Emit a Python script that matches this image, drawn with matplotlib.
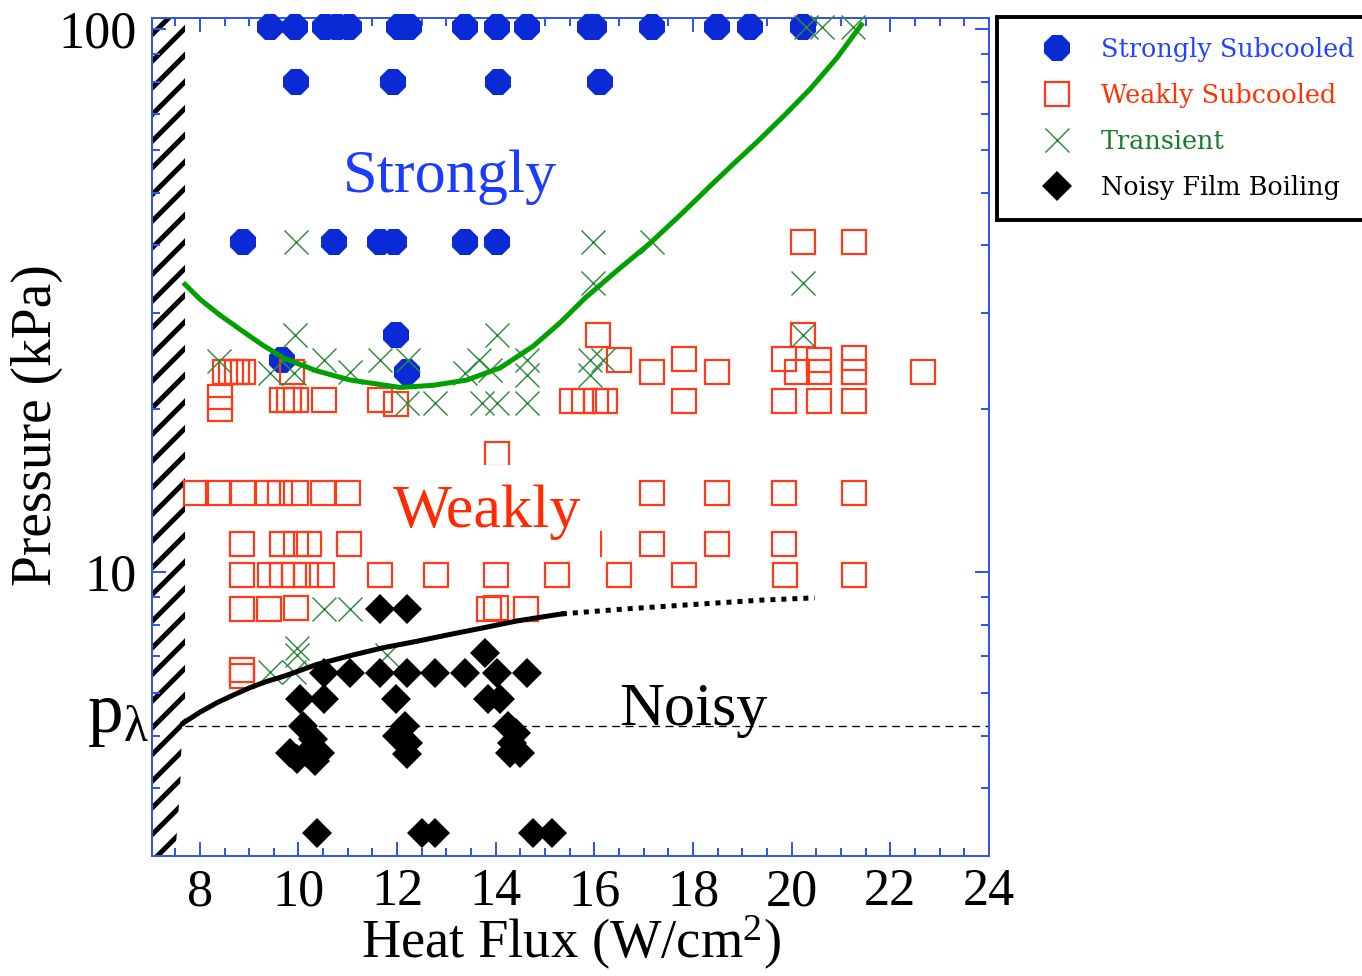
import numpy as np
import matplotlib.pyplot as plt
from matplotlib.ticker import FixedLocator, MultipleLocator, LogLocator, NullFormatter

plt.rcParams['font.family'] = ['Liberation Serif', 'DejaVu Serif']
plt.rcParams['mathtext.fontset'] = 'custom'
plt.rcParams['mathtext.rm'] = 'Liberation Serif'
plt.rcParams['mathtext.default'] = 'regular'
plt.rcParams['hatch.linewidth'] = 4.5
plt.rcParams['hatch.color'] = 'black'

# --- data ---
strong_x = [9.43, 9.93, 10.54, 10.78, 11.03, 12.04, 12.24, 13.38, 14.02, 14.63, 15.91, 16.0,
            17.16, 18.48, 19.15, 20.22,
            9.95, 11.92, 14.05, 16.11,
            8.87, 10.71, 11.66, 11.93, 13.38, 14.02,
            11.98, 12.21, 9.66]
strong_y = [101] * 16 + [80] * 4 + [40.6] * 6 + [27.4, 23.4, 24.6]

weak_x = [8.52, 8.64, 8.76, 8.88, 9.87, 8.40, 8.40,
          9.67, 9.81, 9.95, 10.51, 11.66, 11.98,
          15.54, 15.78, 16.03, 16.21,
          16.08, 16.50, 17.16, 17.81, 18.48, 17.81, 20.23, 19.84, 20.10, 20.56, 20.56,
          21.26, 21.26, 22.67, 19.84, 20.56, 21.26,
          20.23, 21.26,
          7.93, 8.37, 8.88, 9.39, 9.63, 9.95, 10.50, 11.00, 17.16, 18.48, 19.84, 21.26,
          14.02,
          8.86, 9.67, 9.95, 10.21, 11.03, 12.20, 13.37, 14.00, 14.61, 15.89, 17.16, 18.48, 19.84,
          8.86, 9.43, 9.67, 9.91, 10.16, 10.48, 11.66, 12.79, 14.00, 15.24, 16.50, 17.82, 19.86, 21.26,
          8.86, 9.41, 9.95, 13.86, 14.00, 14.61,
          8.86, 8.86]
weak_y = [23.4, 23.4, 23.4, 23.4, 23.4, 21.0, 20.0,
          20.8, 20.8, 20.8, 20.8, 20.8, 20.45,
          20.7, 20.7, 20.7, 20.7,
          27.4, 24.6, 23.4, 24.7, 23.4, 20.7, 27.4, 24.7, 23.4, 24.6, 23.4,
          24.8, 23.4, 23.4, 20.7, 20.7, 20.7,
          40.6, 40.6] + [14.0] * 12 + [16.5] + [11.25] * 13 + [9.9] * 14 + \
         [8.54, 8.54, 8.6, 8.54, 8.6, 8.54, 6.6, 6.45]

trans_x = [20.29, 20.61, 21.24,
           9.95, 15.98, 17.16,
           15.98, 20.23,
           9.93, 14.02, 20.23,
           8.38, 9.43, 9.90, 10.51, 11.05, 11.66, 12.23, 12.20, 12.77, 13.65, 13.38, 13.88,
           14.63, 14.63, 13.72, 14.02, 14.63, 15.91, 16.18, 15.91,
           10.51, 11.05, 9.97, 9.97, 9.43, 9.90, 11.79]
trans_y = [101, 101, 101,
           40.6, 40.6, 40.6,
           34.1, 34.1,
           27.4, 27.4, 27.4,
           24.5, 23.3, 23.3, 24.6, 23.4, 24.6, 24.6, 20.5, 20.5, 24.6, 23.3, 23.6,
           24.6, 23.1, 20.5, 20.5, 20.5, 24.6, 24.6, 23.1,
           8.54, 8.54, 7.25, 7.05, 6.54, 6.54, 7.05]

noisy_x = [11.66, 12.21, 13.78,
           10.51, 11.05, 11.66, 12.21, 12.77, 13.38, 14.02, 14.63,
           10.03, 10.51, 11.98, 13.85, 14.09,
           10.10, 10.30, 9.83, 10.17, 10.44, 10.34, 9.97,
           12.16, 11.99, 12.23, 12.20,
           14.25, 14.42, 14.32, 14.29, 14.49,
           10.37, 12.50, 12.77, 14.76, 15.13]
noisy_y = [8.54, 8.54, 7.11] + [6.53] * 8 + [5.83] * 5 + \
          [5.20, 4.92, 4.65, 4.65, 4.65, 4.49, 4.52,
           5.20, 4.99, 4.85, 4.62,
           5.20, 5.06, 4.85, 4.65, 4.65] + [3.31] * 5

# transition boundary (green) and noisy boundary (black)
green_x = [7.70, 8.01, 8.40, 8.82, 9.25, 9.70, 10.37, 11.05, 12.06, 12.73, 13.41, 14.09, 14.76,
           15.30, 15.81, 16.45, 17.13, 17.75, 18.34, 18.85, 19.35, 19.86, 20.37, 20.91, 21.41]
green_y = [33.9, 31.8, 29.8, 28.0, 26.3, 24.8, 23.5, 22.6, 21.9, 22.1, 22.6, 23.8, 26.1,
           28.8, 32.0, 35.9, 40.4, 45.6, 51.4, 56.9, 62.7, 69.6, 77.6, 88.5, 102]
noisy_line_x = [7.67, 8.00, 8.35, 8.70, 9.02, 9.35, 9.70, 10.37, 11.05, 11.72, 12.40, 13.07,
                13.75, 14.42, 15.34]
noisy_line_y = [5.28, 5.52, 5.75, 5.95, 6.13, 6.29, 6.43, 6.76, 7.02, 7.26, 7.46, 7.68,
                7.90, 8.13, 8.38]
dotted_x = [15.34, 16.65, 18.0, 19.35, 20.47]
dotted_y = [8.38, 8.56, 8.72, 8.88, 8.97]

p_lambda = 5.2
hatch_y = [105, 5.2, 5.2, 4.0, 3.0]
hatch_x = [7.70, 7.70, 7.64, 7.60, 7.50]

blue = '#0a2ad6'
red = '#ff3a1a'
green = '#2e8b3e'
spine_blue = '#3355ee'

fig = plt.figure(figsize=(1362 / 80, 976 / 80), dpi=80)
ax = fig.add_axes([152 / 1362, 1 - 856 / 976, 837 / 1362, 838 / 976])
ax.set_yscale('log')
ax.set_xlim(7.03, 24)
ax.set_ylim(3.0, 105)

ax.fill_betweenx(hatch_y, 7.03, hatch_x, facecolor='white', edgecolor='black',
                 hatch='/', linewidth=0, zorder=1)

ax.plot(strong_x, strong_y, linestyle='none', marker='8', markersize=24.5, color=blue,
        markeredgewidth=0, label='Strongly Subcooled', clip_on=False, zorder=3)
ax.plot(weak_x, weak_y, linestyle='none', marker='s', markersize=21.5, markerfacecolor='none',
        markeredgecolor=red, markeredgewidth=2.0, label='Weakly Subcooled', zorder=4)
ax.plot(trans_x, trans_y, linestyle='none', marker='x', markersize=22, color=green,
        markeredgewidth=1.3, label='Transient', clip_on=False, zorder=5)
ax.plot(noisy_x, noisy_y, linestyle='none', marker='D', markersize=19, color='black',
        markeredgewidth=0, label='Noisy Film Boiling', zorder=5)

ax.plot(green_x, green_y, color='#00a000', linewidth=4.5, zorder=6, solid_joinstyle='round')
ax.plot(noisy_line_x, noisy_line_y, color='black', linewidth=4.5, zorder=6,
        solid_joinstyle='round')
ax.plot(dotted_x, dotted_y, color='black', linewidth=4.5, linestyle=(0, (1, 1.2)),
        dash_capstyle='butt', zorder=6)
ax.plot([7.70, 24], [p_lambda, p_lambda], color='black', linewidth=1.2,
        linestyle=(0, (6, 4)), zorder=2)

ax.text(13.07, 50.2, 'Strongly', color='#1a3cff', fontsize=56, ha='center', va='baseline', zorder=8)
ax.text(13.83, 12.14, 'Weakly', color='#ff2a00', fontsize=56, ha='center', va='baseline', zorder=8,
        bbox=dict(boxstyle='square,pad=0.3', facecolor='white', edgecolor='none'))
ax.text(18.0, 5.24, 'Noisy', color='black', fontsize=56, ha='center', va='baseline', zorder=8)
ax.text(-0.004, 5.07, r'p$_{\lambda}$', transform=ax.get_yaxis_transform(), fontsize=64,
        ha='right', va='baseline')

for s in ax.spines.values():
    s.set_color(spine_blue)
    s.set_linewidth(1.8)

ax.xaxis.set_major_locator(MultipleLocator(2))
ax.xaxis.set_minor_locator(MultipleLocator(0.5))
ax.yaxis.set_major_locator(FixedLocator([10, 100]))
ax.yaxis.set_major_formatter(plt.FixedFormatter(['10', '100']))
ax.yaxis.set_minor_locator(LogLocator(subs=np.arange(2, 10)))
ax.yaxis.set_minor_formatter(NullFormatter())
ax.tick_params(which='both', direction='in', top=True, right=True, color=spine_blue, width=1.8,
               labelsize=47)
ax.tick_params(which='major', length=12.5)
ax.tick_params(which='minor', length=7)
ax.tick_params(axis='x', pad=11)
ax.tick_params(axis='y', pad=14)

ax.set_xlabel(r'Heat Flux (W/cm$^{2}$)', fontsize=49, va='baseline')
ax.xaxis.set_label_coords(0.5, -0.1217)
ax.set_ylabel('Pressure (kPa)', fontsize=50, va='center', family='Liberation Serif')
ax.yaxis.set_label_coords(-0.137, 0.514)

leg = ax.legend(loc='upper left', bbox_to_anchor=(997 / 1362, 1 - 17 / 976),
                bbox_transform=fig.transFigure, borderaxespad=0, numpoints=1,
                prop={'family': 'DejaVu Serif', 'size': 23}, borderpad=0.78,
                handlelength=3.12, handletextpad=0.16, labelspacing=0.82,
                fancybox=False, framealpha=1, edgecolor='black')
leg.get_frame().set_linewidth(3.5)
for t, c in zip(leg.get_texts(), ['#2244ff', '#ff3300', '#1a7a2a', 'black']):
    t.set_color(c)

fig.savefig('out.png', dpi=80)
